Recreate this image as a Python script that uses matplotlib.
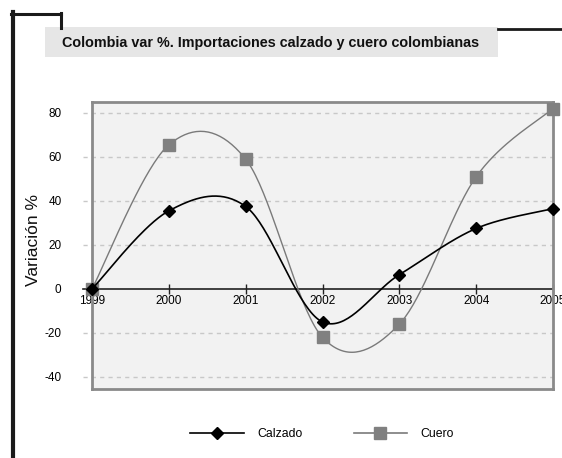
import numpy as np
import matplotlib
matplotlib.use('Agg')
from matplotlib import pyplot as plt
from matplotlib.lines import Line2D
from matplotlib.patches import Rectangle

years = [1999, 2000, 2001, 2002, 2003, 2004, 2005]
calzado = [0, 35.5, 37.5, -15, 6.5, 27.5, 36.5]
cuero = [0, 65.5, 59, -22, -16, 51, 82]
yticks = [-40, -20, 0, 20, 40, 60, 80]

plt.rcParams['font.family'] = ['Liberation Sans', 'DejaVu Sans']
plt.rcParams['axes.unicode_minus'] = False


def smooth(x, y, n=40):
    # catmull-rom, like the spreadsheet "smoothed line"
    x = np.asarray(x, float)
    y = np.asarray(y, float)
    px = np.concatenate([[x[0]], x, [x[-1]]])
    py = np.concatenate([[y[0]], y, [y[-1]]])
    xs, ys = [], []
    for i in range(1, len(px) - 2):
        t = np.linspace(0, 1, n)
        h00 = 2*t**3 - 3*t**2 + 1
        h10 = t**3 - 2*t**2 + t
        h01 = -2*t**3 + 3*t**2
        h11 = t**3 - t**2
        for src, dst in ((px, xs), (py, ys)):
            m0 = (src[i+1] - src[i-1]) / 2
            m1 = (src[i+2] - src[i]) / 2
            dst.extend(h00*src[i] + h10*m0 + h01*src[i+1] + h11*m1)
    return np.array(xs), np.array(ys)


W, H = 562, 458
fig = plt.figure(figsize=(W/100, H/100), dpi=100)

# decorative frame lines
fig.add_artist(Line2D([12.5/W, 12.5/W], [0, 1 - 12/H], color='#1a1a1a', lw=3))
fig.add_artist(Line2D([11/W, 61/W], [1 - 13.5/H, 1 - 13.5/H], color='#1a1a1a', lw=2.2))
fig.add_artist(Line2D([60.5/W, 60.5/W], [1 - 12.5/H, 1 - 28/H], color='#1a1a1a', lw=2.2))
fig.add_artist(Line2D([498/W, 1], [1 - 29/H, 1 - 29/H], color='#1a1a1a', lw=2))
fig.add_artist(Rectangle((45/W, 1 - 57/H), 453/W, 30/H, transform=fig.transFigure,
                         facecolor='#e6e6e6', edgecolor='none'))
fig.text(62/W, 1 - 42.5/H, 'Colombia var %. Importaciones calzado y cuero colombianas',
         fontsize=10.4, fontweight='bold', va='center', ha='left', color='#111111')

ax = fig.add_axes([92/W, 1 - 389/H, 461/W, 287/H])
ax.set_facecolor('#f2f2f2')
ax.set_xlim(1999, 2005)
ax.set_ylim(-45.5, 85)

for y in yticks:
    if y != 0:
        ax.plot([1998.88, 2005], [y, y], color='#c8c8c8', lw=1, ls=(0, (3, 3)),
                clip_on=False, zorder=1)
ax.plot([1998.88, 2005], [0, 0], color='#222222', lw=1.2, clip_on=False, zorder=2)

xs, ys = smooth(years, cuero)
ax.plot(xs, ys, color='#7a7a7a', lw=1, zorder=3)
ax.plot(years, cuero, ls='none', marker='s', ms=8, color='#808080', zorder=4,
        clip_on=False)
xs, ys = smooth(years, calzado)
ax.plot(xs, ys, color='black', lw=1.2, zorder=5)
ax.plot(years, calzado, ls='none', marker='D', ms=6.5, color='black', zorder=6,
        clip_on=False)

for s in ax.spines.values():
    s.set_color('#8a8a8a')
    s.set_linewidth(2)

ax.set_yticks(yticks)
ax.tick_params(axis='y', length=0, pad=22, labelsize=8.5)
ax.set_xticks([])

sec = ax.secondary_xaxis((0 - (-45.5)) / (85 + 45.5))
sec.spines['bottom'].set_visible(False)
sec.set_xticks(years)
sec.tick_params(axis='x', direction='inout', length=7, width=1, color='#222222',
                labelsize=8.5, pad=1)

fig.text(33/W, 1 - 240/H, 'Variación %', rotation=90, fontsize=12.5,
         va='center', ha='center', color='#111111')

handles = [Line2D([], [], color='black', lw=1.2, marker='D', ms=6.5),
           Line2D([], [], color='#7a7a7a', lw=1.2, marker='s', ms=8,
                  markerfacecolor='#808080', markeredgecolor='#808080')]
fig.legend(handles, ['Calzado', 'Cuero'], loc='center', ncol=2, frameon=False,
           bbox_to_anchor=(322/W, 1 - 434/H), fontsize=8.8, handlelength=4.4,
           handletextpad=1.1, columnspacing=4.2)

fig.savefig('out.png', dpi=100)
